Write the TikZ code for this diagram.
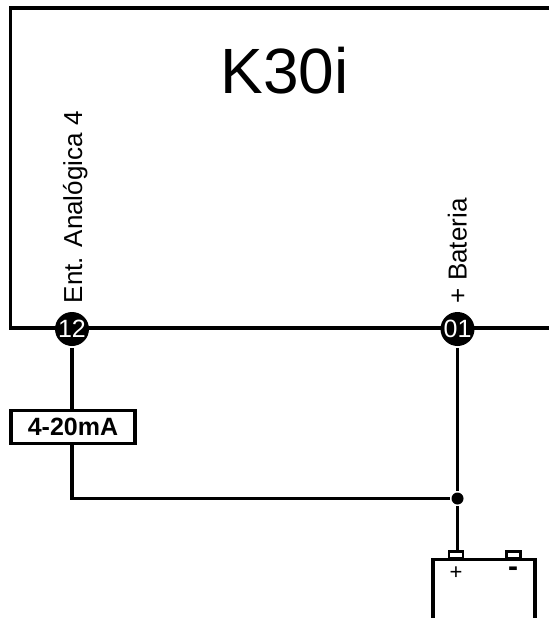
\documentclass[tikz,border=0pt]{standalone}
\usepackage{fontspec}
\setmainfont{Liberation Sans}
\usetikzlibrary{%
  positioning,% wg. " of "
  calc%
}
\tikzset{
  pin/.style={circle, fill=black, text=white, inner sep=0pt, minimum size=34pt, font=\fontsize{25}{25}\selectfont},
  pinlabel/.style={rotate=90, anchor=base west, inner sep=0pt, font=\fontsize{26}{30}\selectfont},
  terminal/.style={draw, line width=2.4pt, fill=white, inner sep=0pt, minimum width=14pt, minimum height=7pt},
  junction/.style={circle, fill=black, inner sep=0pt, minimum size=12pt},
  sensor/.style={draw, line width=3.6pt, fill=white, inner sep=0pt, minimum width=123.5pt, minimum height=33pt, font=\bfseries\fontsize{25}{25}\selectfont}
}
\begin{document}
\begin{tikzpicture}[x=1pt,y=-1pt,line width=3.6pt]
    \useasboundingbox (0,0) rectangle (549,618);
    %frame
    \coordinate (frame_tr) at (549,8);
    \coordinate (frame_tl) at (10.5,8);
    \coordinate (frame_bl) at (10.5,328);
    \coordinate (frame_br) at (549,328);
    \draw (frame_tr) -- (frame_tl) -- (frame_bl) -- (frame_br);
    \node[inner sep=0pt, anchor=base, font=\fontsize{64}{64}\selectfont] (title) at (284.5,93) {K30i};

    %pins
    \node[pin] (pin_12) at (72,329) {12};
    \node[pin] (pin_01) at (457.5,329) {01};
    \node[pinlabel] (label_12) at (82,305) {Ent. Analógica 4};
    \node[pinlabel] (label_01) at (466.5,305) {+ Bateria};

    %sensor and junction
    \node[sensor] (sensor) at (73,427) {4-20mA};
    \node[junction] (junction) at (457.5,498.5) {};

    %battery
    \coordinate (bat_bl) at (433,618);
    \coordinate (bat_tl) at (433,559.5);
    \coordinate (bat_tr) at (535,559.5);
    \coordinate (bat_br) at (535,618);
    \draw (bat_bl) -- (bat_tl) -- (bat_tr) -- (bat_br);
    \node[terminal] (bat_plus) at (456,555) {};
    \node[terminal] (bat_minus) at (513.5,555) {};
    \node[inner sep=0pt, font=\fontsize{22}{22}\selectfont] (sign_plus) at (456,573) {+};
    \node[inner sep=0pt, font=\bfseries\fontsize{30}{30}\selectfont] (sign_minus) at (513,572) {-};

    \path[-,line width=3.2pt]
    (pin_12) edge (pin_12 |- sensor.north)
    (pin_01) edge (junction)
    (junction) edge (junction |- bat_plus.north);
    \draw[line width=3.2pt] (pin_12 |- sensor.south) |- (junction);
\end{tikzpicture}
\end{document}
